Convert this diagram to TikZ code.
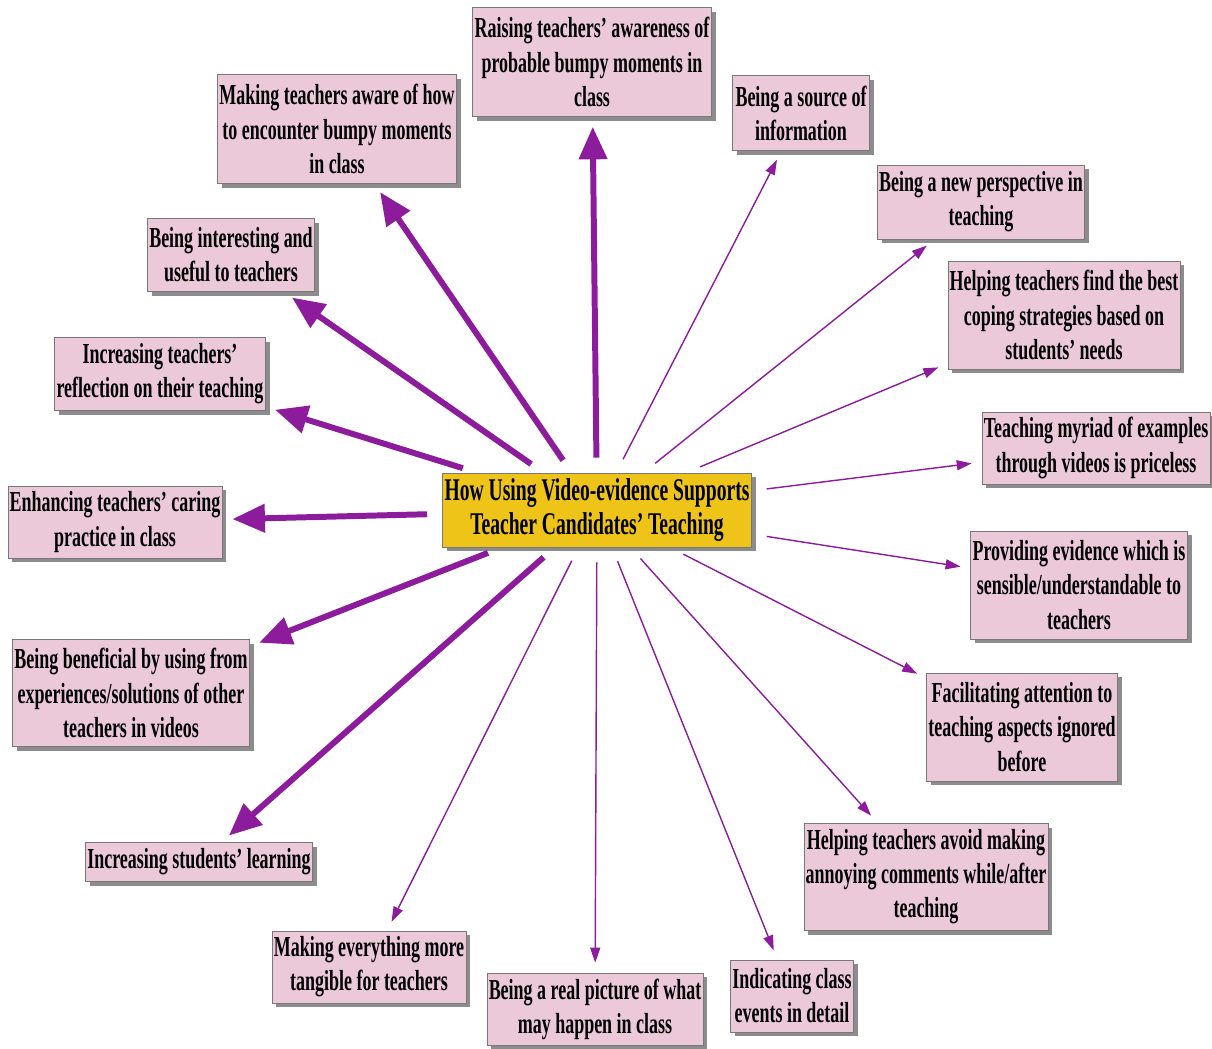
\documentclass[tikz,border=0pt]{standalone}
\usepackage{fontspec}
\setmainfont{Liberation Serif}[FakeStretch=0.62]
\usetikzlibrary{arrows.meta,shadows}

\definecolor{ideapink}{RGB}{236,201,217}
\definecolor{hubgold}{RGB}{238,196,24}
\definecolor{linkpurple}{RGB}{140,28,156}
\definecolor{framegray}{RGB}{120,120,120}

\begin{document}
\begin{tikzpicture}[
    x=0.02cm, y=-0.02cm,
    font=\fontsize{16.5}{19.4}\selectfont\bfseries,
    idea/.style={rectangle, draw=framegray, fill=ideapink, align=center, inner sep=1pt,
      drop shadow={shadow xshift=2.5pt, shadow yshift=-2.5pt, fill=black!45, opacity=1}},
    hub/.style={idea, fill=hubgold, font=\fontsize{18}{19}\selectfont\bfseries},
    strong/.style={linkpurple, line width=3.4pt, -{Triangle[length=0.65cm, width=0.55cm]}, shorten <=0.3cm, shorten >=0.2cm},
    weak/.style={linkpurple, line width=0.8pt, -{Triangle[length=0.3cm, width=0.2cm]}, shorten <=0.3cm, shorten >=0.2cm}
]
\useasboundingbox (0,0) rectangle (1212,1048);

% Centre
\node (hub) [hub, minimum width=6.18cm, minimum height=1.48cm] at (597,510) {How Using Video-evidence Supports\\Teacher Candidates' Teaching};

% Upper half
\node (raising) [idea, minimum width=4.78cm, minimum height=2.18cm] at (592,62) {Raising teachers' awareness of\\probable bumpy moments in\\class};
\node (aware) [idea, minimum width=4.74cm, minimum height=2.18cm] at (337,129) {Making teachers aware of how\\to encounter bumpy moments\\in class};
\node (interesting) [idea, minimum width=3.26cm, minimum height=1.46cm] at (231,255) {Being interesting and\\useful to teachers};
\node (reflection) [idea, minimum width=4.14cm, minimum height=1.46cm] at (160,374) {Increasing teachers'\\reflection on their teaching};
\node (caring) [idea, minimum width=4.14cm, minimum height=1.44cm] at (115,522) {Enhancing teachers' caring\\practice in class};
\node (source) [idea, minimum width=2.74cm, minimum height=1.50cm] at (801,113) {Being a source of\\information};
\node (perspective) [idea, minimum width=4.14cm, minimum height=1.48cm] at (981,202) {Being a new perspective in\\teaching};
\node (coping) [idea, minimum width=4.62cm, minimum height=2.16cm] at (1064,315) {Helping teachers find the best\\coping strategies based on\\students' needs};
\node (myriad) [idea, minimum width=4.48cm, minimum height=1.44cm] at (1096,448) {Teaching myriad of examples\\through videos is priceless};

% Lower half
\node (sensible) [idea, minimum width=4.20cm, minimum height=2.16cm] at (1079,585) {Providing evidence which is\\sensible/understandable to\\teachers};
\node (ignored) [idea, minimum width=3.82cm, minimum height=2.16cm] at (1022,727) {Facilitating attention to\\teaching aspects ignored\\before};
\node (comments) [idea, minimum width=4.80cm, minimum height=2.14cm] at (926,877) {Helping teachers avoid making\\annoying comments while/after\\teaching};
\node (events) [idea, minimum width=2.38cm, minimum height=1.44cm] at (792,996) {Indicating class\\events in detail};
\node (realpic) [idea, minimum width=4.22cm, minimum height=1.44cm] at (595,1009) {Being a real picture of what\\may happen in class};
\node (tangible) [idea, minimum width=3.86cm, minimum height=1.44cm] at (369,967) {Making everything more\\tangible for teachers};
\node (learning) [idea, minimum width=4.42cm, minimum height=0.78cm] at (199,862) {Increasing students' learning};
\node (beneficial) [idea, minimum width=4.64cm, minimum height=2.14cm] at (131,693) {Being beneficial by using from\\experiences/solutions of other\\teachers in videos};

% Strong links
\draw [strong] (hub) -- (raising);
\draw [strong] (hub) -- (aware);
\draw [strong] (hub) -- (interesting);
\draw [strong] (hub) -- (reflection);
\draw [strong] (hub) -- (caring);
\draw [strong] (hub) -- (beneficial);
\draw [strong] (hub) -- (learning);

% Weak links
\draw [weak] (hub) -- (source);
\draw [weak] (hub) -- (perspective);
\draw [weak] (hub) -- (coping);
\draw [weak] (hub) -- (myriad);
\draw [weak] (hub) -- (sensible);
\draw [weak] (hub) -- (ignored);
\draw [weak] (hub) -- (comments);
\draw [weak] (hub) -- (events);
\draw [weak] (hub) -- (realpic);
\draw [weak] (hub) -- (tangible);

\end{tikzpicture}
\end{document}
